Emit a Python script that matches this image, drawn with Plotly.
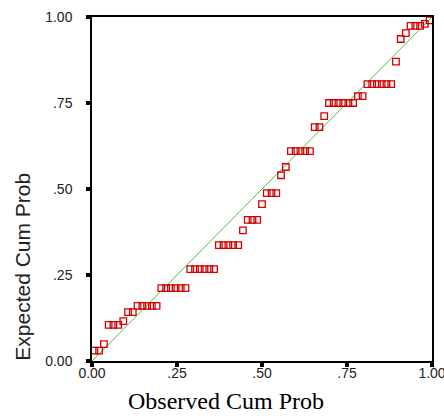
import plotly.graph_objects as go

# Observed cumulative probability (x) and expected cumulative probability (y)
observed = [0.007, 0.021, 0.035, 0.049, 0.063, 0.077, 0.092, 0.106, 0.120, 0.134,
            0.148, 0.162, 0.176, 0.190, 0.204, 0.218, 0.232, 0.246, 0.261, 0.275,
            0.289, 0.303, 0.317, 0.331, 0.345, 0.359, 0.373, 0.387, 0.401, 0.415,
            0.430, 0.444, 0.458, 0.472, 0.486, 0.500, 0.514, 0.528, 0.542, 0.556,
            0.570, 0.585, 0.599, 0.613, 0.627, 0.641, 0.655, 0.669, 0.683, 0.697,
            0.711, 0.725, 0.739, 0.754, 0.768, 0.782, 0.796, 0.810, 0.824, 0.838,
            0.852, 0.866, 0.880, 0.894, 0.908, 0.923, 0.937, 0.951, 0.965, 0.979,
            0.993]
expected = [0.030, 0.030, 0.049, 0.105, 0.105, 0.105, 0.116, 0.142, 0.142, 0.160,
            0.160, 0.160, 0.160, 0.160, 0.212, 0.212, 0.212, 0.212, 0.212, 0.212,
            0.267, 0.267, 0.267, 0.267, 0.267, 0.267, 0.337, 0.337, 0.337, 0.337,
            0.337, 0.380, 0.410, 0.410, 0.410, 0.456, 0.488, 0.488, 0.488, 0.540,
            0.564, 0.610, 0.610, 0.610, 0.610, 0.610, 0.680, 0.680, 0.712, 0.750,
            0.750, 0.750, 0.750, 0.750, 0.750, 0.770, 0.770, 0.805, 0.805, 0.805,
            0.805, 0.805, 0.805, 0.870, 0.936, 0.953, 0.974, 0.974, 0.974, 0.980,
            0.990]
ref_line = [0, 1]
tick_vals = [0, 0.25, 0.5, 0.75, 1.0]
tick_text = ["0.00", ".25", ".50", ".75", "1.00"]

fig = go.Figure()
fig.add_trace(go.Scatter(x=ref_line, y=ref_line, mode="lines",
                         line=dict(color="#3fc43f", width=1), hoverinfo="skip",
                         showlegend=False))
fig.add_trace(go.Scatter(x=observed, y=expected, mode="markers", cliponaxis=False,
                         marker=dict(symbol="square-open", size=6.5, color="#d40000",
                                     line=dict(width=1.3, color="#d40000")),
                         showlegend=False))

axis_common = dict(range=[0, 1], tickvals=tick_vals, ticktext=tick_text,
                   showgrid=False, zeroline=False, showline=True, linecolor="black",
                   linewidth=1.5, mirror=True, ticks="outside", ticklen=4,
                   tickwidth=3.5, tickcolor="black", automargin=False,
                   ticklabeloverflow="allow",
                   tickfont=dict(family="Liberation Sans, Arial", size=14, color="#222"))

fig.update_xaxes(**axis_common, ticklabelstandoff=-6)
fig.update_yaxes(**axis_common, ticklabelstandoff=11)

fig.add_annotation(text="Observed Cum Prob", xref="paper", yref="paper",
                   x=0.395, y=-0.160, xanchor="center", yanchor="bottom",
                   showarrow=False,
                   font=dict(family="Liberation Serif, Times New Roman", size=24, color="black"))
fig.add_annotation(text="Expected Cum Prob", xref="paper", yref="paper",
                   x=-0.205, y=0.275, xanchor="center", yanchor="middle",
                   textangle=-90, showarrow=False,
                   font=dict(family="Liberation Sans, Arial", size=21, color="#222"))

fig.update_layout(width=444, height=418, margin=dict(l=92, r=12, t=17, b=57),
                  plot_bgcolor="white", paper_bgcolor="white")

fig.write_html("out.html", config={"displayModeBar": False},
               post_script="document.body.style.margin='0';document.body.style.overflow='hidden';")
